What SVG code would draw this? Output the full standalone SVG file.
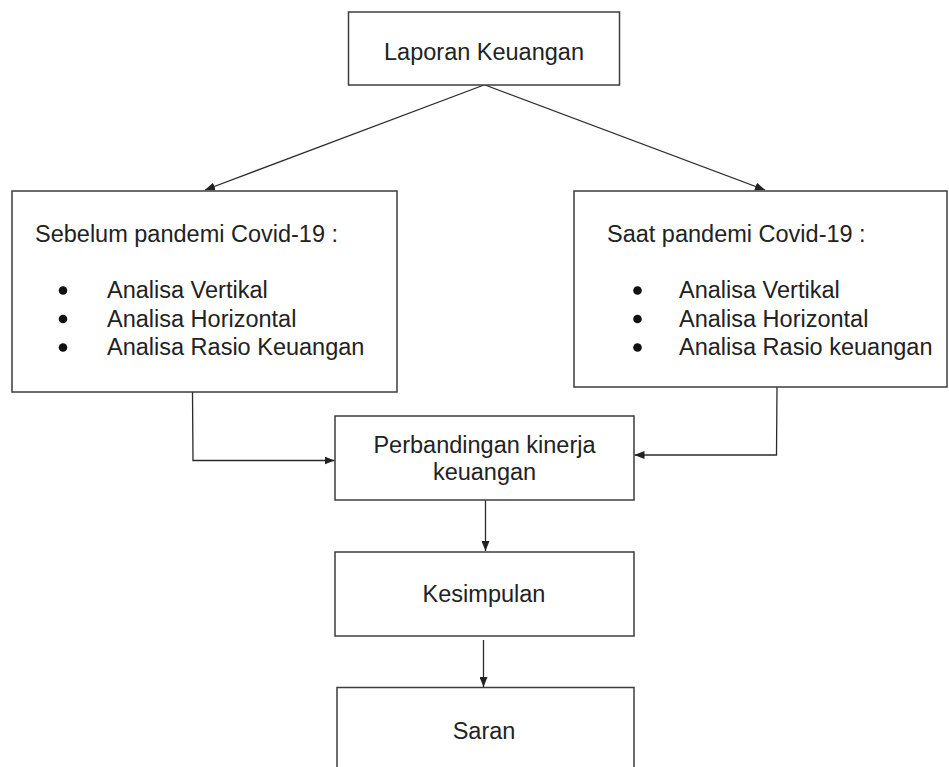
<svg xmlns="http://www.w3.org/2000/svg" width="949" height="767" viewBox="0 0 949 767">
  <defs>
    <marker id="ah" viewBox="0 0 10 8" refX="10" refY="4" markerWidth="10" markerHeight="8" markerUnits="userSpaceOnUse" orient="auto">
      <path d="M0,0 L10,4 L0,8 Z" fill="#222"/>
    </marker>
  </defs>
  <style>
    .box { fill: #fff; stroke: #3c3c3c; stroke-width: 1.5; }
    .t { font-family: "Liberation Sans", Arial, sans-serif; font-size: 23.5px; fill: #222; }
    .c { text-anchor: middle; }
    .conn { fill: none; stroke: #2a2a2a; stroke-width: 1.3; }
    .dot { fill: #111; }
  </style>
  <rect width="949" height="767" fill="#fff"/>

  <g id="connectors">
    <line class="conn" x1="484" y1="85" x2="205" y2="190" marker-end="url(#ah)"/>
    <line class="conn" x1="485" y1="85" x2="765" y2="190" marker-end="url(#ah)"/>
    <polyline class="conn" points="192.5,392 193,460.5 334.5,460.5" marker-end="url(#ah)"/>
    <polyline class="conn" points="777,387 776.5,455 634.5,455" marker-end="url(#ah)"/>
    <line class="conn" x1="485.5" y1="500" x2="485.5" y2="551" marker-end="url(#ah)"/>
    <line class="conn" x1="483.5" y1="640" x2="483.5" y2="687" marker-end="url(#ah)"/>
  </g>

  <g id="laporan">
    <rect class="box" x="348.5" y="12" width="271" height="73"/>
    <text class="t c" x="484" y="60">Laporan Keuangan</text>
  </g>

  <g id="sebelum">
    <rect class="box" x="12" y="191" width="385" height="201"/>
    <text class="t" x="35" y="242">Sebelum pandemi Covid-19 :</text>
    <circle class="dot" cx="63" cy="290.5" r="4.3"/>
    <circle class="dot" cx="63" cy="319" r="4.3"/>
    <circle class="dot" cx="63" cy="347.5" r="4.3"/>
    <text class="t" x="107" y="298">Analisa Vertikal</text>
    <text class="t" x="107" y="326.5">Analisa Horizontal</text>
    <text class="t" x="107" y="355">Analisa Rasio Keuangan</text>
  </g>

  <g id="saat">
    <rect class="box" x="574" y="191" width="373" height="196"/>
    <text class="t" x="607" y="242">Saat pandemi Covid-19 :</text>
    <circle class="dot" cx="637.5" cy="290.5" r="4.3"/>
    <circle class="dot" cx="637.5" cy="319" r="4.3"/>
    <circle class="dot" cx="637.5" cy="347.5" r="4.3"/>
    <text class="t" x="679" y="298">Analisa Vertikal</text>
    <text class="t" x="679" y="326.5">Analisa Horizontal</text>
    <text class="t" x="679" y="355">Analisa Rasio keuangan</text>
  </g>

  <g id="perbandingan">
    <rect class="box" x="335" y="416" width="299" height="84"/>
    <text class="t c" x="484.5" y="453">Perbandingan kinerja</text>
    <text class="t c" x="484.5" y="480">keuangan</text>
  </g>

  <g id="kesimpulan">
    <rect class="box" x="335" y="552" width="299" height="84"/>
    <text class="t c" x="484" y="602">Kesimpulan</text>
  </g>

  <g id="saran">
    <rect class="box" x="337" y="687.5" width="297" height="100"/>
    <text class="t c" x="484" y="739">Saran</text>
  </g>
</svg>
